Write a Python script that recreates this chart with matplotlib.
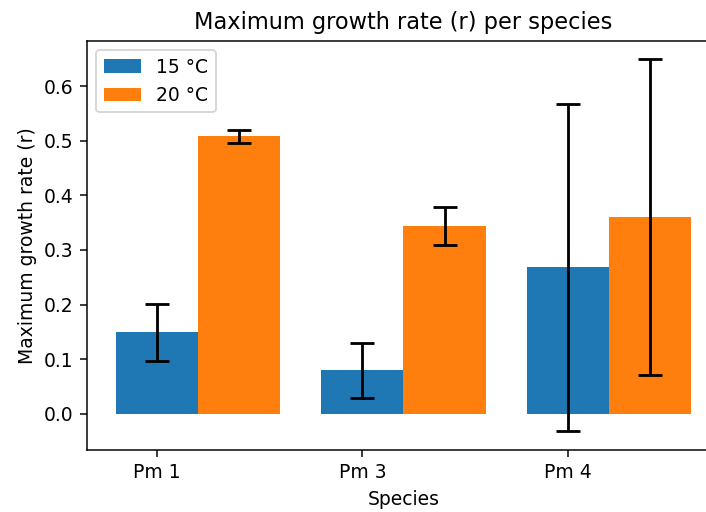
import numpy as np
import matplotlib
matplotlib.use('Agg')
import matplotlib.pyplot as plt

# values
species = ['Pm 1', 'Pm 3', 'Pm 4']
r_15 = [0.149, 0.080, 0.268]
err_15 = [0.052, 0.050, 0.300]
r_20 = [0.508, 0.344, 0.360]
err_20 = [0.012, 0.034, 0.289]

x = np.arange(len(species))
width = 0.4

DPI = 135
fig = plt.figure(figsize=(706 / DPI, 512 / DPI), dpi=DPI)
# axes runs past the right edge, as in the (cropped) reference
ax = fig.add_axes([0.1232, 0.1211, 0.8966, 0.7994])

ax.bar(x, r_15, width, yerr=err_15, capsize=6.5, ecolor='black',
       error_kw={'elinewidth': 1.5, 'capthick': 1.5}, label='15 °C')
ax.bar(x + width, r_20, width, yerr=err_20, capsize=6.5, ecolor='black',
       error_kw={'elinewidth': 1.5, 'capthick': 1.5}, label='20 °C')

ax.set_xticks(x)
ax.set_xticklabels(species)
ax.set_xlabel('Species')
ax.set_ylabel('Maximum growth rate (r)')
ax.set_title('Maximum growth rate (r) per species', fontsize=12)
ax.legend(loc='upper left')

fig.savefig('out.png', dpi=DPI)
